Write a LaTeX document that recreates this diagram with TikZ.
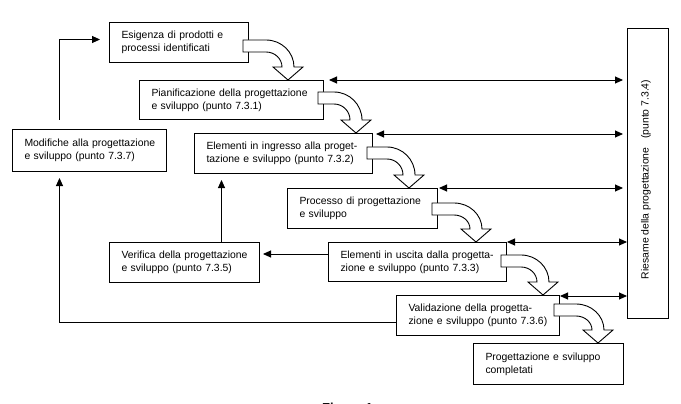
\documentclass[tikz,border=0pt]{standalone}
\usepackage{fontspec}
\setmainfont{Liberation Sans}
\usetikzlibrary{arrows.meta,calc}
\newcommand\diagfont{\fontsize{10.4pt}{12.8pt}\selectfont}
% #1 source node, #2 target node, #3 band top below source top (px), #4 tip x right of source east (px)
\newcommand\bandarrow[4]{%
  \draw[band] let \p1=(#1.north east), \p2=(#2.north) in
    ({\x1-6pt},{\y1-#3pt})
    -- ({\x1+#4pt+6pt-28pt},{\y1-#3pt})
    arc[start angle=90,end angle=0,x radius=28pt,y radius={\y1-#3pt-(\y2+13pt)}]
    -- ({\x1+#4pt+15pt},{\y2+13pt})
    -- ({\x1+#4pt},{\y2})
    -- ({\x1+#4pt-15pt},{\y2+13pt})
    -- ({\x1+#4pt-6pt},{\y2+13pt})
    arc[start angle=0,end angle=90,x radius=16pt,y radius={\y1-#3pt-12pt-(\y2+13pt)}]
    -- ({\x1-6pt},{\y1-#3pt-12pt}) -- cycle;}
\begin{document}
\begin{tikzpicture}[x=1pt,y=-1pt,
  box/.style={draw, line width=1pt, anchor=north west, align=left,
    inner xsep=12pt, inner ysep=0pt, font=\diagfont},
  arr/.style={line width=0.9pt, -{Triangle[length=8pt,width=7pt]}},
  darr/.style={line width=0.9pt, {Triangle[length=8pt,width=7pt]}-{Triangle[length=8pt,width=7pt]}},
  band/.style={draw, fill=white, line width=0.9pt}]
\useasboundingbox (0,0) rectangle (681,404);

\node[box, text width=115pt, minimum height=40pt] (esi) at (109,22)
  {\mbox{Esigenza di prodotti e}\\\mbox{processi identificati}};
\node[box, text width=160pt, minimum height=39pt] (pian) at (139,80)
  {\mbox{Pianificazione della progettazione}\\\mbox{e sviluppo (punto 7.3.1)}};
\node[box, text width=130pt, minimum height=42pt] (mod) at (12,129)
  {\mbox{Modifiche alla progettazione}\\\mbox{e sviluppo (punto 7.3.7)}};
\node[box, text width=154pt, minimum height=40pt] (ing) at (194,133)
  {\mbox{Elementi in ingresso alla proget-}\\\mbox{tazione e sviluppo (punto 7.3.2)}};
\node[box, text width=126pt, minimum height=40pt] (pro) at (287,188)
  {\mbox{Processo di progettazione}\\\mbox{e sviluppo}};
\node[box, text width=126pt, minimum height=40pt] (ver) at (109,242)
  {\mbox{Verifica della progettazione}\\\mbox{e sviluppo (punto 7.3.5)}};
\node[box, text width=154pt, minimum height=39pt] (usc) at (328,242)
  {\mbox{Elementi in uscita dalla progetta-}\\\mbox{zione e sviluppo (punto 7.3.3)}};
\node[box, text width=139pt, minimum height=40pt] (val) at (396,295)
  {\mbox{Validazione della progetta-}\\\mbox{zione e sviluppo (punto 7.3.6)}};
\node[box, text width=126pt, minimum height=41pt] (com) at (473,343)
  {\mbox{Progettazione e sviluppo}\\\mbox{completati}};
\node[box, minimum width=41pt, minimum height=290pt, inner sep=0pt] (rev) at (627,28) {};
\node[rotate=90, font=\diagfont, inner sep=0pt] (revt) at ([xshift=-2pt,yshift=-6pt]rev.center)
  {Riesame della progettazione\ \ \ (punto 7.3.4)};

% block arrows
\bandarrow{esi}{pian}{18}{39}
\bandarrow{pian}{ing}{12}{32}
\bandarrow{ing}{pro}{14}{36}
\bandarrow{pro}{usc}{15}{38}
\bandarrow{usc}{val}{13}{36}
\bandarrow{val}{com}{9}{38}

% review double arrows
\draw[darr] ([xshift=5pt]pian.north east) -- ([xshift=-4pt]rev.west |- pian.north east);
\draw[darr] ([xshift=3pt,yshift=-1pt]ing.north east) -- ([xshift=-4pt,yshift=-1pt]rev.west |- ing.north east);
\draw[darr] ([xshift=1pt]pro.north east) -- ([xshift=-4pt]rev.west |- pro.north east);
\draw[darr] (usc.north east) -- (rev.west |- usc.north east);
\draw[darr] ([yshift=-1pt]val.north east) -- ([yshift=-1pt]rev.west |- val.north east);

% feedback connectors
\draw[arr] ([xshift=-30pt,yshift=9pt]mod.north) |- ([xshift=-9pt,yshift=3pt]esi.west);
\draw[arr] ([yshift=-7pt]val.west) -| ([xshift=-30pt,yshift=-6pt]mod.south);
\draw[arr] ([xshift=37pt]ver.north) -- ([xshift=37pt,yshift=-6pt]ver.north |- ing.south);
\draw[arr] ([yshift=-12pt]usc.north west) -- ([xshift=3pt,yshift=-12pt]ver.north east);

\node[font=\bfseries\fontsize{13pt}{15pt}\selectfont, anchor=base west, inner sep=0pt] (fig) at (322,412) {Figura 1};
\end{tikzpicture}
\end{document}
